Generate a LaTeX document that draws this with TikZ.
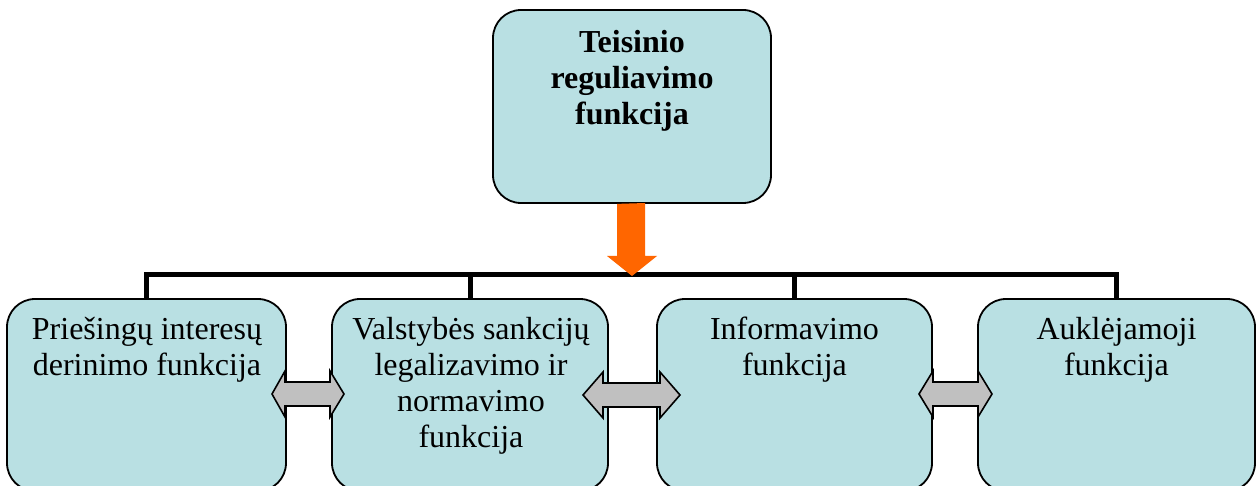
\documentclass[tikz,border=0pt]{standalone}
\usepackage{fontspec}
\setmainfont{Liberation Serif}
\definecolor{boxfill}{RGB}{185,224,227}
\definecolor{arrorange}{RGB}{255,102,0}
\definecolor{arrgray}{RGB}{192,192,192}
\tikzset{
  fbox/.style={draw=black, line width=1.8pt, fill=boxfill, rounded corners=28pt, inner sep=0pt},
  ftext/.style={anchor=north, inner sep=0pt, align=center, font=\fontsize{32}{36}\selectfont},
  ttext/.style={anchor=north, inner sep=0pt, align=center, font=\fontsize{32}{36}\selectfont\bfseries},
  busline/.style={draw=black, line width=5pt},
  dblarr/.style={draw=black, line width=1.6pt, fill=arrgray, line join=miter},
  downarr/.style={fill=arrorange, draw=none}
}
\newcommand{\dblarrow}[5]{%
  \draw[dblarr] (#1,#5) -- (#2,#5-23) -- (#2,#5-12) -- (#3,#5-12) -- (#3,#5-23) -- (#4,#5)
     -- (#3,#5+23) -- (#3,#5+12) -- (#2,#5+12) -- (#2,#5+23) -- cycle;}
\begin{document}
\begin{tikzpicture}[x=1pt,y=-1pt]
\useasboundingbox (0,0) rectangle (1256,486);
\clip (0,0) rectangle (1256,486);
\fill[white] (0,0) rectangle (1256,486);
% top box
\node[fbox, minimum width=278pt, minimum height=193pt] (top) at (632,106.5) {};
\node[ttext] (toptext) at (632,30) {Teisinio\\reguliavimo\\funkcija};
% bottom boxes
\node[fbox, minimum width=279pt, minimum height=192pt] (b1) at (146.5,395) {};
\node[fbox, minimum width=276pt, minimum height=192pt] (b2) at (470,395) {};
\node[fbox, minimum width=275pt, minimum height=192pt] (b3) at (794.5,395) {};
\node[fbox, minimum width=277pt, minimum height=192pt] (b4) at (1116.5,395) {};
\node[ftext] (t1) at (147,317) {Priešingų interesų\\derinimo funkcija};
\node[ftext] (t2) at (471,317) {Valstybės sankcijų\\legalizavimo ir\\normavimo\\funkcija};
\node[ftext] (t3) at (794.5,317) {Informavimo\\funkcija};
\node[ftext] (t4) at (1116.5,317) {Auklėjamoji\\funkcija};
% bus
\coordinate (bus) at (632,274.5);
\draw[busline] (b1.north) -- (b1.north |- bus) -- (b4.north |- bus) -- (b4.north);
\draw[busline] (b2.north) -- (b2.north |- bus);
\draw[busline] (b3.north) -- (b3.north |- bus);
% orange arrow
\fill[downarr] (top.south -| 617,0) -- (645,203) -- (645,256) -- (657,256) -- (632,276) -- (607,256) -- (617,256) -- cycle;
% gray double arrows
\dblarrow{272}{285}{330}{344}{394}
\dblarrow{583}{603}{660}{680}{395}
\dblarrow{919}{933}{978}{992}{394}
\end{tikzpicture}
\end{document}
